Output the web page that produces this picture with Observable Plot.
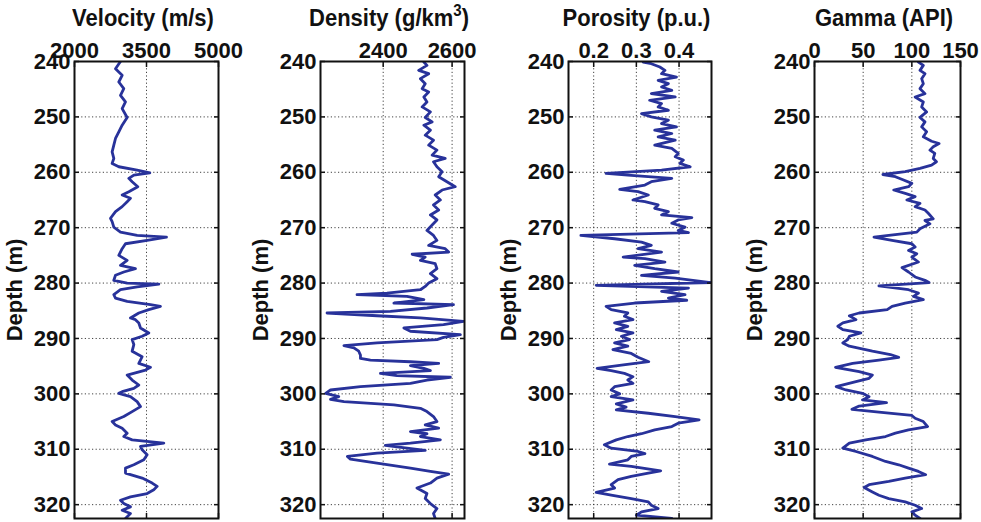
<!DOCTYPE html>
<html><head><meta charset="utf-8">
<script src="https://cdn.jsdelivr.net/npm/d3@7"></script>
<script src="https://cdn.jsdelivr.net/npm/@observablehq/plot@0.6"></script>
<style>
body{margin:0;background:#fff;font-family:"Liberation Sans",Arial,sans-serif;}
#wrap{position:relative;width:981px;height:522px;overflow:hidden;background:#fff}
.title{position:absolute;top:4px;width:300px;font-weight:bold;font-size:22px;line-height:26px;text-align:center;white-space:nowrap;color:#111;transform:scaleY(1.08);transform-origin:50% 0}
.title sup{font-size:15px;line-height:0;position:relative;top:-1px}
.panel{position:absolute;top:0}
</style></head><body><div id="wrap"></div><script>
// [depth (m), value]
const velocity = [[240.0,2958],[241.3,2854],[242.5,2993],[243.7,2923],[244.9,3027],[246.1,2958],[247.3,3062],[248.5,2993],[250.1,3097],[251.5,2993],[252.7,2923],[253.9,2854],[255.1,2819],[256.3,2784],[257.5,2819],[258.4,2784],[259.0,2923],[259.6,3305],[260.1,3569],[260.5,3236],[261.1,3132],[261.7,3201],[262.6,3319],[263.5,3132],[264.1,2993],[264.7,3166],[265.3,3097],[266.2,2993],[267.1,2854],[268.3,2750],[268.9,2784],[269.9,2819],[270.8,2958],[271.4,3305],[271.7,3916],[272.3,3513],[272.9,3062],[273.8,2993],[275.0,2923],[275.9,3097],[276.8,2958],[277.4,3270],[278.0,3027],[278.6,2854],[279.5,2819],[280.0,3097],[280.2,3756],[280.7,3305],[281.2,2958],[282.1,2819],[282.7,2854],[283.3,3097],[283.9,3583],[284.2,3791],[284.8,3548],[285.4,3340],[286.3,3166],[286.6,3270],[287.2,3340],[288.1,3375],[289.0,3548],[289.6,3409],[290.2,3201],[291.1,3236],[292.3,3201],[293.3,3409],[294.5,3340],[295.2,3583],[295.7,3479],[296.6,3097],[297.5,3201],[298.4,3340],[299.0,3236],[299.6,2993],[299.9,2923],[300.5,3166],[301.4,3305],[302.3,3375],[303.2,3201],[304.1,3027],[305.0,2784],[305.6,2854],[306.2,2993],[307.1,3097],[307.7,3027],[308.3,3201],[308.9,3861],[309.5,3375],[310.1,3409],[311.0,3513],[311.9,3444],[312.8,3236],[313.4,3062],[314.3,3062],[315.2,3409],[316.1,3618],[316.7,3722],[317.3,3652],[318.0,3513],[318.6,3166],[319.2,2958],[319.8,3027],[320.4,3166],[321.0,2993],[321.6,3166],[322.5,3062]];

const density = [[240.1,2518],[240.7,2527],[241.6,2503],[242.2,2532],[243.1,2508],[244.0,2522],[244.9,2513],[245.5,2532],[246.4,2518],[247.3,2527],[248.2,2513],[249.1,2537],[250.1,2522],[250.9,2542],[251.5,2518],[252.4,2537],[253.3,2522],[254.2,2546],[255.1,2532],[256.0,2556],[256.9,2542],[257.5,2580],[258.1,2546],[259.0,2556],[259.9,2571],[260.8,2561],[261.7,2585],[262.6,2609],[263.2,2571],[264.1,2551],[265.0,2566],[265.9,2546],[266.8,2561],[267.7,2537],[268.6,2556],[269.5,2542],[270.5,2527],[271.4,2546],[272.3,2556],[273.2,2532],[273.8,2580],[274.4,2590],[274.8,2484],[275.3,2522],[275.9,2508],[276.5,2551],[277.4,2556],[278.3,2537],[279.2,2556],[280.0,2532],[280.6,2522],[281.2,2508],[281.8,2411],[282.1,2324],[282.4,2469],[283.0,2518],[283.6,2431],[283.9,2604],[284.5,2527],[285.1,2421],[285.4,2237],[285.9,2382],[286.3,2508],[286.9,2633],[287.5,2575],[288.1,2460],[288.7,2479],[289.3,2624],[289.8,2575],[290.2,2556],[290.8,2382],[291.3,2286],[291.7,2315],[292.3,2329],[293.0,2334],[293.6,2334],[293.9,2363],[294.2,2479],[294.5,2561],[294.9,2479],[295.4,2518],[295.8,2537],[296.3,2392],[296.7,2440],[297.0,2595],[297.5,2527],[298.1,2479],[298.7,2334],[299.3,2247],[299.9,2233],[300.5,2271],[301.0,2247],[301.4,2286],[302.0,2431],[302.6,2508],[303.2,2527],[304.1,2546],[305.0,2556],[305.6,2522],[306.2,2561],[306.8,2479],[307.2,2527],[307.7,2508],[308.3,2566],[308.9,2479],[309.3,2406],[309.8,2469],[310.2,2522],[310.7,2382],[311.3,2296],[311.8,2305],[312.5,2382],[313.4,2479],[314.0,2537],[314.5,2590],[315.2,2556],[316.1,2537],[317.0,2498],[318.0,2527],[318.9,2522],[319.8,2537],[320.7,2556],[321.6,2546],[322.5,2551]];

const porosity = [[240.1,0.316],[240.4,0.335],[241.0,0.355],[241.6,0.367],[242.2,0.359],[242.8,0.394],[243.4,0.351],[244.0,0.375],[244.6,0.359],[245.2,0.383],[245.8,0.335],[246.4,0.391],[247.0,0.331],[247.6,0.359],[248.2,0.351],[248.8,0.375],[249.4,0.312],[250.0,0.335],[250.6,0.375],[251.2,0.359],[251.8,0.394],[252.4,0.343],[253.0,0.383],[253.6,0.351],[254.2,0.391],[255.1,0.343],[255.7,0.383],[256.6,0.398],[257.2,0.391],[257.8,0.410],[258.4,0.402],[259.0,0.426],[259.6,0.359],[260.2,0.229],[260.5,0.280],[261.1,0.383],[261.7,0.335],[262.3,0.320],[263.1,0.261],[263.5,0.304],[264.1,0.328],[265.0,0.292],[265.3,0.320],[265.9,0.351],[266.5,0.343],[267.1,0.375],[267.7,0.359],[268.2,0.430],[268.6,0.398],[269.2,0.383],[269.9,0.414],[270.5,0.398],[270.9,0.422],[271.4,0.170],[272.0,0.249],[272.6,0.312],[273.2,0.335],[273.8,0.304],[274.4,0.359],[275.3,0.269],[275.6,0.320],[276.2,0.367],[276.8,0.296],[277.4,0.343],[278.0,0.398],[278.6,0.312],[279.1,0.391],[279.9,0.474],[280.4,0.206],[280.9,0.422],[281.5,0.359],[282.1,0.414],[282.7,0.375],[283.1,0.418],[283.6,0.296],[284.2,0.229],[284.8,0.241],[285.4,0.280],[286.0,0.272],[286.6,0.292],[287.2,0.249],[287.8,0.280],[288.4,0.253],[289.0,0.292],[289.6,0.265],[290.2,0.284],[290.8,0.249],[291.4,0.280],[292.0,0.245],[292.7,0.288],[293.4,0.304],[294.2,0.329],[294.8,0.265],[295.4,0.208],[295.8,0.241],[296.3,0.272],[296.9,0.292],[297.5,0.280],[298.1,0.292],[298.7,0.249],[299.3,0.241],[300.0,0.261],[300.5,0.241],[301.1,0.292],[301.8,0.253],[302.4,0.276],[302.9,0.253],[303.5,0.328],[304.1,0.391],[304.7,0.447],[305.3,0.398],[305.9,0.383],[306.5,0.343],[307.2,0.312],[307.7,0.280],[308.3,0.253],[309.2,0.225],[309.8,0.241],[310.4,0.304],[310.8,0.320],[311.3,0.288],[311.9,0.280],[312.7,0.237],[313.1,0.288],[313.9,0.357],[314.3,0.328],[314.9,0.288],[315.5,0.257],[316.4,0.241],[317.0,0.249],[317.8,0.206],[318.3,0.241],[318.9,0.288],[319.5,0.328],[320.1,0.335],[320.7,0.351],[321.3,0.312],[321.9,0.300],[322.5,0.383]];

const gamma = [[240.1,106.8],[240.7,111.8],[241.6,108.4],[242.2,113.5],[243.1,110.1],[244.0,111.8],[244.9,108.4],[245.8,113.5],[246.4,103.4],[247.3,111.8],[248.2,110.1],[249.1,115.2],[250.1,108.4],[250.9,113.5],[251.8,110.1],[252.7,115.2],[253.6,111.8],[254.4,120.3],[254.8,128.0],[255.4,122.0],[256.0,118.6],[256.6,123.6],[257.5,122.0],[258.1,125.3],[258.7,120.3],[259.3,108.4],[259.9,93.2],[260.4,70.3],[260.8,83.1],[261.4,91.5],[262.0,100.0],[262.6,96.6],[263.2,81.4],[263.8,93.2],[264.4,103.4],[265.0,94.9],[265.6,108.4],[266.2,103.4],[266.8,113.5],[267.4,116.9],[268.4,122.0],[268.7,113.5],[269.3,118.6],[270.2,108.4],[270.8,105.1],[271.4,76.3],[271.7,61.1],[272.3,79.7],[272.9,100.0],[273.5,103.4],[274.1,96.6],[274.7,105.1],[275.3,100.0],[276.2,106.8],[277.2,89.9],[278.0,96.6],[278.9,103.4],[279.5,113.5],[279.9,117.6],[280.5,66.2],[281.2,96.6],[281.8,106.8],[282.4,101.7],[283.0,111.8],[283.6,93.2],[284.2,79.7],[284.8,74.7],[285.4,45.9],[285.9,35.8],[286.6,42.6],[287.2,29.1],[287.8,24.0],[288.4,29.1],[289.0,47.6],[289.6,35.8],[290.2,34.1],[290.8,29.1],[291.4,35.8],[292.3,59.5],[292.9,78.0],[293.4,86.5],[293.9,66.2],[294.5,39.2],[295.2,21.6],[296.0,45.9],[296.6,59.5],[297.2,56.1],[297.8,42.6],[298.7,22.3],[299.3,32.4],[299.9,49.3],[300.5,56.1],[301.1,49.3],[301.6,74.0],[302.2,45.9],[302.8,38.5],[303.3,66.2],[303.9,100.0],[304.4,103.4],[305.0,111.8],[305.9,116.2],[306.5,96.6],[307.1,83.1],[307.7,73.0],[308.3,52.7],[308.9,35.8],[309.8,29.1],[310.4,42.6],[311.3,59.5],[312.2,73.0],[312.8,86.5],[313.4,96.6],[314.0,106.8],[314.6,114.2],[315.2,93.2],[315.8,76.3],[316.4,56.1],[316.9,51.0],[317.7,59.5],[318.3,66.2],[318.9,76.3],[319.5,93.2],[320.1,103.4],[320.7,110.1],[321.3,100.0],[321.9,103.4],[322.5,108.4]];

const titles = ["Velocity (m/s)", "Density (g/km<sup>3</sup>)", "Porosity (p.u.)", "Gamma (API)"];
const xTicks = [[2000,3500,5000],[2400,2600],[0.2,0.3,0.4],[0,50,100,150]];
const xDomains = [[2000,5000],[2218,2636],[0.141,0.476],[0,150]];
const depthTicks = [240,250,260,270,280,290,300,310,320];
const depthLabel = "Depth (m)";
const series = [velocity, density, porosity, gamma];

const panelLeft = [74, 320, 568, 814];
const panelWidth = [144, 144, 143, 146];
const ML = 74, SVGW = 246;
const lineColor = "#28329a";
const gridStyle = {stroke: "#222", strokeWidth: 1, strokeDasharray: "1.2,2.4", strokeOpacity: 0.85};
const wrap = document.getElementById("wrap");

series.forEach((data, i) => {
  const rows = data.map(([d, v]) => ({d, v}));
  const fmt = i === 2 ? (t => t.toFixed(1)) : (t => String(t));
  const chart = Plot.plot({
    width: SVGW, height: 522,
    marginTop: 61, marginBottom: 4, marginLeft: ML, marginRight: SVGW - ML - panelWidth[i],
    style: {fontFamily: "'Liberation Sans', Arial, sans-serif", fontWeight: "bold", fontSize: "22px", background: "transparent", overflow: "visible", color: "#111"},
    x: {domain: xDomains[i]},
    y: {domain: [240, 322.5], reverse: true},
    marks: [
      Plot.gridX(xTicks[i], gridStyle),
      Plot.gridY(depthTicks, gridStyle),
      Plot.line(rows, {x: "v", y: "d", stroke: lineColor, strokeWidth: 2.8, strokeLinejoin: "round", clip: true}),
      Plot.frame({stroke: "#111", strokeWidth: 2}),
      Plot.axisX(xTicks[i], {anchor: "top", tickSize: 0, tickPadding: 4, tickFormat: fmt, fontSize: 22, fontWeight: "bold", label: null}),
      Plot.axisX(xTicks[i], {anchor: "top", tickSize: -5, text: null, label: null, strokeWidth: 1.5}),
      Plot.axisX(xTicks[i], {anchor: "bottom", tickSize: -5, text: null, label: null, strokeWidth: 1.5}),
      Plot.axisY(depthTicks, {anchor: "left", tickSize: 0, tickPadding: 4, fontSize: 22, fontWeight: "bold",
        label: depthLabel, labelAnchor: "center", labelArrow: "none", labelOffset: 68}),
      Plot.axisY(depthTicks, {anchor: "left", tickSize: -5, text: null, label: null, strokeWidth: 1.5}),
      Plot.axisY(depthTicks, {anchor: "right", tickSize: -5, text: null, label: null, strokeWidth: 1.5})
    ]
  });
  chart.classList.add("panel");
  chart.style.left = (panelLeft[i] - ML) + "px";
  wrap.appendChild(chart);
  const t = document.createElement("div");
  t.className = "title";
  t.innerHTML = titles[i];
  t.style.left = (panelLeft[i] + panelWidth[i] / 2 - 3 - 150) + "px";
  wrap.appendChild(t);
});
</script></body></html>
